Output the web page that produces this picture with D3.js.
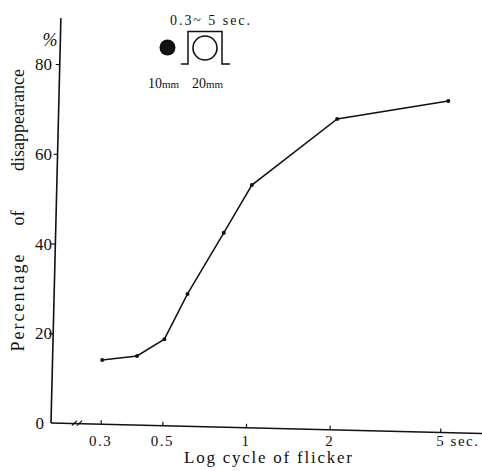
<!DOCTYPE html>
<html lang="en">
<head>
    <meta charset="UTF-8">
    <title>Flicker</title>
    <script src="https://cdn.jsdelivr.net/npm/d3@7/dist/d3.min.js"></script>
    <style>
        body { margin: 0; background: #fff; }
        text { font-family: "Liberation Serif", "DejaVu Serif", serif; fill: #111; }
    </style>
</head>
<body>
<script>

    // data
    var xVals = [0.3, 0.4, 0.5, 0.6, 0.8, 1.0, 2.0, 5.0];   // log cycle of flicker (sec)
    var yVals = [14.3, 15.4, 19.3, 29.5, 43.3, 54.1, 69.3, 73.9]; // % disappearance
    var xTicks = [0.3, 0.5, 1, 2, 5];
    var xTickLabels = ["0.3", "0.5", "1", "2", "5 sec."];
    var yTicks = [0, 20, 40, 60, 80];

    var width = 482;
    var height = 471;
    var ox = 51, oy = 423; // origin of the axes

    var svg = d3.select("body")
        .append("svg")
        .attr("width", width)
        .attr("height", height);

    // scales: 278 px per decade, 1 sec at x=246
    var x = d3.scaleLog().domain([1, 10]).range([246, 524]);
    var y = d3.scaleLinear().domain([0, 80]).range([oy, 64]);

    // the scanned page is slightly turned, so the plot is too
    var g = svg.append("g")
        .attr("transform", "rotate(1.4," + ox + "," + oy + ")");

    // axis lines
    g.append("line")
        .attr("x1", ox).attr("y1", oy)
        .attr("x2", ox).attr("y2", 18)
        .attr("stroke", "#111").attr("stroke-width", 1.6);
    g.append("line")
        .attr("x1", ox).attr("y1", oy)
        .attr("x2", 495).attr("y2", oy)
        .attr("stroke", "#111").attr("stroke-width", 1.6);

    // ticks, no labels (labels are pasted on straight below)
    var xAxis = g.append("g")
        .attr("transform", "translate(0," + oy + ")")
        .call(d3.axisBottom(x).tickValues(xTicks).tickSize(-4).tickFormat(""));
    var yAxis = g.append("g")
        .attr("transform", "translate(" + ox + ",0)")
        .call(d3.axisLeft(y).tickValues(yTicks.slice(1)).tickSize(4).tickFormat(""));
    xAxis.select(".domain").remove();
    yAxis.select(".domain").remove();
    g.selectAll(".tick line").attr("stroke", "#111").attr("stroke-width", 1.2);

    // axis break  //
    [74, 79].forEach(function (bx) {
        g.append("line")
            .attr("x1", bx - 2).attr("y1", oy + 2)
            .attr("x2", bx + 3).attr("y2", oy - 3)
            .attr("stroke", "#111").attr("stroke-width", 1.1);
    });

    // curve
    var pts = xVals.map(function (d, i) { return [d, yVals[i]]; });
    var line = d3.line()
        .x(function (d) { return x(d[0]); })
        .y(function (d) { return y(d[1]); });
    g.append("path")
        .datum(pts)
        .attr("d", line)
        .attr("fill", "none")
        .attr("stroke", "#111")
        .attr("stroke-width", 1.5);
    g.selectAll("circle.pt")
        .data(pts)
        .enter()
        .append("circle")
        .attr("class", "pt")
        .attr("cx", function (d) { return x(d[0]); })
        .attr("cy", function (d) { return y(d[1]); })
        .attr("r", 2)
        .attr("fill", "#111");

    // y tick labels
    svg.selectAll("text.yl")
        .data(yTicks)
        .enter()
        .append("text")
        .attr("class", "yl")
        .attr("x", function (d) { return d === 0 ? 44 : 52; })
        .attr("y", function (d) { return y(d) + 6; })
        .attr("text-anchor", "end")
        .attr("font-size", 17)
        .text(function (d) { return d; });

    svg.append("text")
        .attr("x", 50).attr("y", 46)
        .attr("text-anchor", "middle")
        .attr("font-size", 18)
        .attr("font-style", "italic")
        .text("%");

    // x tick labels
    svg.selectAll("text.xl")
        .data(xTicks)
        .enter()
        .append("text")
        .attr("class", "xl")
        .attr("x", function (d, i) { return i === xTicks.length - 1 ? x(d) - 4 : x(d); })
        .attr("y", 446)
        .attr("text-anchor", function (d, i) { return i === xTicks.length - 1 ? "start" : "middle"; })
        .attr("font-size", 15)
        .attr("letter-spacing", 1.5)
        .text(function (d, i) { return xTickLabels[i]; });

    svg.append("text")
        .attr("x", 184).attr("y", 463)
        .attr("font-size", 17)
        .attr("textLength", 168)
        .attr("lengthAdjust", "spacing")
        .text("Log cycle of flicker");

    // y title, three words spread out
    [["Percentage", 302, 2], ["of", 218, 0], ["disappearance", 120, 0]].forEach(function (w) {
        svg.append("text")
            .attr("transform", "translate(24," + w[1] + ") rotate(-90)")
            .attr("text-anchor", "middle")
            .attr("font-size", 18)
            .attr("letter-spacing", w[2])
            .text(w[0]);
    });

    // stimulus sketch
    svg.append("circle")
        .attr("cx", 167.5).attr("cy", 47.5).attr("r", 8)
        .attr("fill", "#111");
    svg.append("circle")
        .attr("cx", 205).attr("cy", 48).attr("r", 12)
        .attr("fill", "none").attr("stroke", "#111").attr("stroke-width", 1.6);
    svg.append("path")
        .attr("d", "M181,64 H188 V31.5 H222 V64 H230")
        .attr("fill", "none").attr("stroke", "#111").attr("stroke-width", 1.5);
    svg.append("text")
        .attr("x", 170).attr("y", 25)
        .attr("font-size", 14)
        .attr("textLength", 80)
        .attr("lengthAdjust", "spacing")
        .text("0.3~ 5 sec.");
    [["10", 148], ["20", 192]].forEach(function (m) {
        var t = svg.append("text")
            .attr("x", m[1]).attr("y", 88)
            .attr("font-size", 14);
        t.append("tspan").text(m[0]);
        t.append("tspan").attr("font-size", 11).text("mm");
    });

</script>
</body>
</html>
